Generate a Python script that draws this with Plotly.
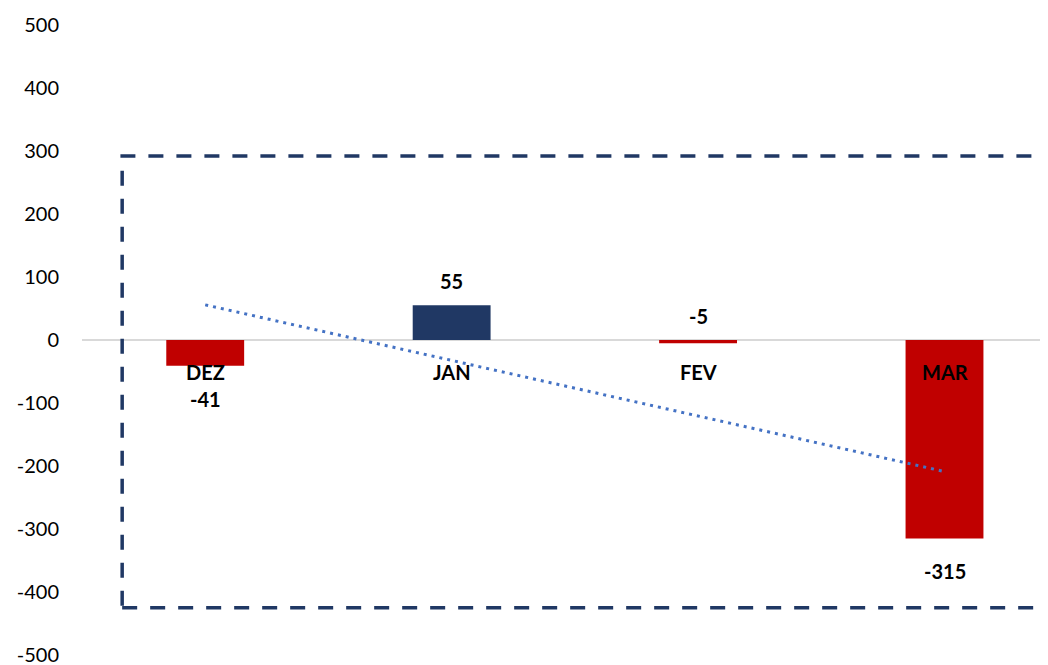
import numpy as np
import plotly.graph_objects as go

categories = ["DEZ", "JAN", "FEV", "MAR"]
values = [-41, 55, -5, -315]
y_ticks = [500, 400, 300, 200, 100, 0, -100, -200, -300, -400, -500]

RED = "#C00000"
NAVY = "#203864"
TREND = "#4472C4"
FONT = "Lato"

colors = [NAVY if v > 0 else RED for v in values]

# linear trend line (least squares over category index)
xi = np.arange(len(values))
slope, intercept = np.polyfit(xi, values, 1)
trend = slope * xi + intercept

fig = go.Figure()
fig.add_trace(go.Bar(
    x=categories, y=values, marker=dict(color=colors, line=dict(width=0)),
    width=0.316, showlegend=False, hoverinfo="skip",
))
fig.add_trace(go.Scatter(
    x=[categories[0], categories[-1]], y=[trend[0], trend[-1]],
    mode="lines", line=dict(color=TREND, width=3, dash="3px,5px"),
    showlegend=False, hoverinfo="skip",
))

annotations = []
for c, v in zip(categories, values):
    # category label just below the zero line
    annotations.append(dict(
        x=c, y=0, text=f"<b>{c}</b>", showarrow=False, yshift=-32,
        font=dict(family=FONT, size=20, color="#000000"),
    ))
    if v >= -20:
        annotations.append(dict(
            x=c, y=max(v, 0), text=f"<b>{v}</b>", showarrow=False, yshift=24,
            font=dict(family=FONT, size=20, color="#000000"),
        ))
    else:
        annotations.append(dict(
            x=c, y=v, text=f"<b>{v}</b>", showarrow=False, yshift=-33,
            font=dict(family=FONT, size=20, color="#000000"),
        ))

# page body has an 8px default margin, so the figure is offset to fit the window
fig.update_layout(
    width=1060, height=665,
    margin=dict(l=74, r=20, t=17, b=18, autoexpand=False),
    paper_bgcolor="white", plot_bgcolor="white",
    bargap=0.6,
    xaxis=dict(
        type="category", categoryorder="array", categoryarray=categories,
        range=[-0.5, 3.42], showticklabels=False, showgrid=False,
        zeroline=False, showline=False, ticks="", automargin=False,
    ),
    yaxis=dict(
        range=[-500, 500], tickvals=y_ticks, ticktext=[str(t) for t in y_ticks],
        showgrid=False, zeroline=True, zerolinecolor="#D9D9D9", zerolinewidth=2,
        showline=False, ticks="", ticklabelstandoff=22, automargin=False,
        ticklabeloverflow="allow",
        tickfont=dict(family=FONT, size=20, color="#000000"),
    ),
    annotations=annotations,
    shapes=[dict(
        type="rect", xref="x", yref="y", x0=-0.337, x1=4.0, y0=-425, y1=292,
        line=dict(color=NAVY, width=3.5, dash="15px,13px"),
        fillcolor="rgba(0,0,0,0)", layer="above",
    )],
)

fig.write_html("out.html")
